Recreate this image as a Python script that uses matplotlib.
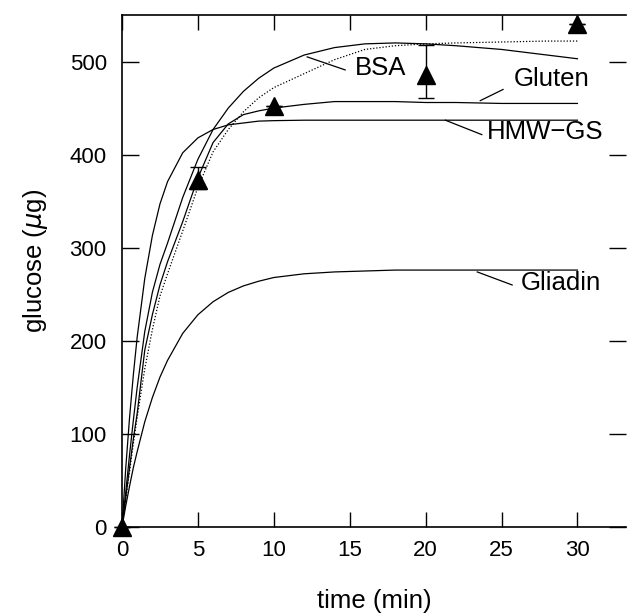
import matplotlib
matplotlib.use("Agg")
import matplotlib.pyplot as plt

plt.rcParams['font.family'] = ['Liberation Sans', 'DejaVu Sans']
plt.rcParams['mathtext.fontset'] = 'dejavusans'

# time grid (min) at which the curves were read
t = [0, 0.25, 0.5, 0.75, 1, 1.5, 2, 2.5, 3, 4, 5, 6, 7, 8, 9, 10, 12, 14, 16, 18, 20, 22, 25, 28, 30]

top_solid = [0, 38, 78, 115, 150, 210, 252, 282, 305, 354, 395, 427, 450, 468, 482, 493, 507, 515, 519, 520, 519, 517, 513, 507, 503]
bsa = [0, 30, 60, 90, 118, 170, 212, 248, 272, 318, 365, 403, 427, 446, 461, 472, 487, 502, 513, 517, 519, 520, 521, 522, 522]
gluten = [0, 32, 64, 95, 122, 190, 228, 260, 285, 328, 375, 413, 433, 443, 447, 450, 454, 457, 457, 457, 456, 456, 455, 455, 455]
hmw_gs = [0, 64, 118, 164, 204, 267, 313, 347, 371, 402, 418, 427, 432, 434, 436, 436.5, 437, 437, 437, 437, 437, 437, 437, 437, 437]
gliadin = [0, 23, 44, 64, 81, 113, 139, 161, 179, 208, 228, 242, 252, 259, 264, 268, 272, 274, 275, 276, 276, 276, 276, 276, 276]

# measured points (triangles) with error bars
pt_x = [0, 5, 10, 20, 30]
pt_y = [0, 373, 452, 486, 540]
err_low = [0, 10, 0, 25, 0]
err_high = [0, 14, 0, 32, 0]

labels = ["BSA", "Gluten", "HMW\u2212GS", "Gliadin"]
xticks = [0, 5, 10, 15, 20, 25, 30]
yticks = [0, 100, 200, 300, 400, 500]

fig = plt.figure(figsize=(6.27, 6.16), dpi=100)
ax = fig.add_axes([122/627, 1-527/616, (626-122)/627, (527-15)/616])

lw = 0.9
ax.plot(t, top_solid, color='black', lw=lw)
ax.plot(t, bsa, color='black', lw=lw, linestyle=(0, (1, 1.5)))
ax.plot(t, gluten, color='black', lw=lw)
ax.plot(t, hmw_gs, color='black', lw=lw)
ax.plot(t, gliadin, color='black', lw=lw)

ax.errorbar(pt_x, pt_y, yerr=[err_low, err_high], fmt='^', color='black',
            markersize=13, ecolor='black', elinewidth=1.0, capsize=6,
            capthick=1.0, clip_on=False, zorder=5)

# labels with leader lines
lab_pos = [(17.0, 493), (28.3, 481), (27.9, 424), (28.9, 262)]
leaders = [((12.2, 505), (14.7, 491)),
           ((23.6, 458), (25.1, 470)),
           ((21.3, 437), (23.7, 421.5)),
           ((23.4, 274), (25.7, 260))]
for lab, (lx, ly), ((x0, y0), (x1, y1)) in zip(labels, lab_pos, leaders):
    ax.text(lx, ly, lab, fontsize=18.5, ha='center', va='center')
    ax.plot([x0, x1], [y0, y1], color='black', lw=0.9)

ax.set_xlim(0, 33.2)
ax.set_ylim(0, 550)
ax.set_xticks(xticks)
ax.set_yticks(yticks)
ax.tick_params(axis='both', which='both', direction='in', labelsize=16,
               length=11, width=1.0, top=True, right=True)
ax.tick_params(axis='x', pad=9)
ax.tick_params(axis='y', pad=11)
ax.yaxis.set_tick_params(which='major', length=12)
for side in ['left', 'bottom', 'top']:
    ax.spines[side].set_linewidth(1.2)
ax.spines['right'].set_visible(False)

ax.set_xlabel('time (min)', fontsize=18.5)
ax.xaxis.set_label_coords(0.50, -0.122)
ax.set_ylabel('glucose ($\\mu$g)', fontsize=18.5)
ax.yaxis.set_label_coords(-0.143, 0.52)

fig.savefig('out.png', dpi=100)
